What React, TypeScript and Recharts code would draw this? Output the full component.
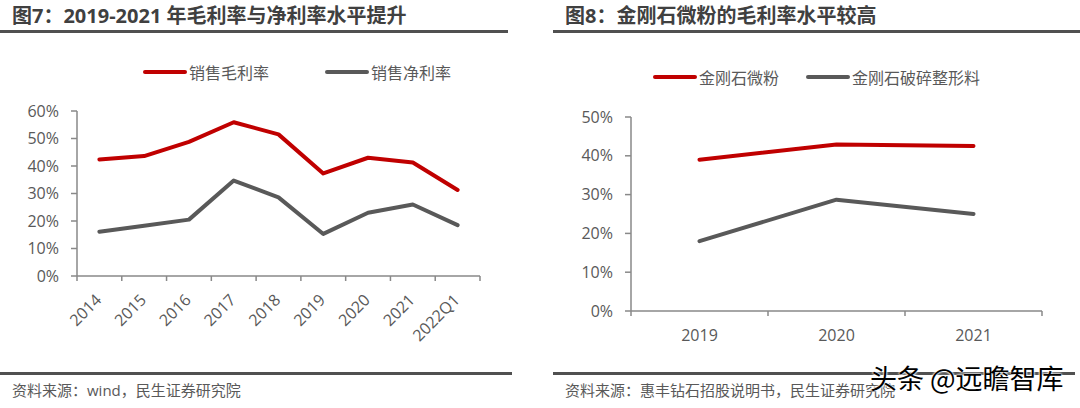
import React from 'react';
import { LineChart, Line, XAxis, YAxis, Legend } from 'recharts';

// 图7 data
const years = ['2014', '2015', '2016', '2017', '2018', '2019', '2020', '2021', '2022Q1'];
const grossMargin = [0.424, 0.436, 0.488, 0.559, 0.515, 0.373, 0.43, 0.413, 0.313];
const netMargin = [0.161, 0.183, 0.205, 0.347, 0.286, 0.153, 0.23, 0.26, 0.185];
const leftTicks = [0, 0.1, 0.2, 0.3, 0.4, 0.5, 0.6];

// 图8 data
const powderYears = ['2019', '2020', '2021'];
const powderMargin = [0.39, 0.429, 0.425];
const shapingMargin = [0.18, 0.287, 0.25];
const rightTicks = [0, 0.1, 0.2, 0.3, 0.4, 0.5];

const RED = '#c00000';
const GRAY = '#595959';
const AXIS = '#898989';
const TEXT = '#595959';
const FONT = '"Open Sans", "Noto Sans CJK SC", sans-serif';

const pct = (v: number) => `${Math.round(v * 100)}%`;

const leftData = years.map((y, i) => ({ year: y, gross: grossMargin[i], net: netMargin[i] }));
const rightData = powderYears.map((y, i) => ({ year: y, powder: powderMargin[i], shaping: shapingMargin[i] }));

// excel style category axis: tick marks between categories
const makeTick = (band: number, count: number, rotate: boolean) => (props: any) => {
  const { x, y, payload, index } = props;
  const lx = x - band / 2;
  return (
    <g>
      <line x1={lx} y1={y - 5} x2={lx} y2={y} stroke={AXIS} strokeWidth={1.5} />
      {index === count - 1 && (
        <line x1={x + band / 2} y1={y - 5} x2={x + band / 2} y2={y} stroke={AXIS} strokeWidth={1.5} />
      )}
      {rotate ? (
        <text
          x={x + 3}
          y={y + 20}
          transform={`rotate(-45 ${x + 3} ${y + 20})`}
          textAnchor="end"
          fill={TEXT}
          fontSize={16}
          fontFamily={FONT}
        >
          {payload.value}
        </text>
      ) : (
        <text x={x} y={y + 25} textAnchor="middle" fill={TEXT} fontSize={16} fontFamily={FONT}>
          {payload.value}
        </text>
      )}
    </g>
  );
};

// legend keeps series order (recharts sorts by name otherwise)
const makeLegend = (order: string[], offsets: number[], fontSize: number) => (props: any) => {
  const items = [...(props.payload || [])].sort(
    (a: any, b: any) => order.indexOf(a.dataKey) - order.indexOf(b.dataKey)
  );
  return (
    <div style={{ position: 'relative', height: 24, fontFamily: FONT }}>
      {items.map((p: any, i: number) => (
        <div
          key={i}
          style={{ position: 'absolute', left: offsets[i], top: 0, display: 'flex', alignItems: 'center', height: 24, whiteSpace: 'nowrap' }}
        >
          <svg width={44} height={8} style={{ marginRight: 2 }}>
            <line x1={2} y1={4} x2={42} y2={4} stroke={p.color} strokeWidth={4} strokeLinecap="round" />
          </svg>
          <span style={{ color: TEXT, fontSize }}>{p.value}</span>
        </div>
      ))}
    </div>
  );
};

const Title = ({ text, left, lineLeft, lineWidth }: any) => (
  <>
    <div style={{ position: 'absolute', left, top: 5, fontSize: 20, lineHeight: '22px', fontWeight: 'bold', color: '#404040', whiteSpace: 'nowrap' }}>
      {text}
    </div>
    <div style={{ position: 'absolute', left: lineLeft, top: 30, width: lineWidth, height: 2.5, background: '#505050' }} />
  </>
);

const Footer = ({ text, left, lineLeft, lineWidth }: any) => (
  <>
    <div style={{ position: 'absolute', left: lineLeft, top: 372, width: lineWidth, height: 2.5, background: '#505050' }} />
    <div style={{ position: 'absolute', left, top: 381, fontSize: 15, lineHeight: '18px', color: TEXT, whiteSpace: 'nowrap' }}>
      {text}
    </div>
  </>
);

const W = 508;
const H = 372;
const leftBand = (W - 77 - 28) / years.length;
const rightBand = (540 - 91 - 38) / powderYears.length;

export default function App() {
  return (
    <div style={{ position: 'absolute', left: 0, top: 0, width: 1080, height: 408, background: '#fff', fontFamily: FONT, overflow: 'hidden' }}>
      <Title text="图7：2019-2021 年毛利率与净利率水平提升" left={12} lineLeft={0} lineWidth={508} />
      <Title text="图8：金刚石微粉的毛利率水平较高" left={565} lineLeft={553} lineWidth={527} />

      <div style={{ position: 'absolute', left: 0, top: 0 }}>
        <LineChart width={W} height={H} data={leftData} margin={{ top: 111, right: 28, bottom: 36, left: 0 }}>
          <XAxis
            dataKey="year"
            scale="band"
            interval={0}
            height={60}
            tickLine={false}
            tickSize={5}
            tickMargin={0}
            axisLine={{ stroke: AXIS, strokeWidth: 1.5 }}
            tick={makeTick(leftBand, years.length, true)}
          />
          <YAxis
            width={77}
            domain={[0, 0.6]}
            ticks={leftTicks}
            interval={0}
            tickFormatter={pct}
            tickSize={6}
            tickMargin={12}
            axisLine={{ stroke: AXIS, strokeWidth: 1.5 }}
            tickLine={{ stroke: AXIS, strokeWidth: 1.5 }}
            tick={{ fill: TEXT, fontSize: 16, fontFamily: FONT }}
          />
          <Legend
            layout="vertical"
            align="center"
            verticalAlign="middle"
            wrapperStyle={{ left: 143, top: 60, width: 360 }}
            content={makeLegend(['gross', 'net'], [0, 182], 16)}
          />
          <Line dataKey="gross" name="销售毛利率" stroke={RED} strokeWidth={4} dot={false} activeDot={false} strokeLinecap="round" strokeLinejoin="round" isAnimationActive={false} />
          <Line dataKey="net" name="销售净利率" stroke={GRAY} strokeWidth={4} dot={false} activeDot={false} strokeLinecap="round" strokeLinejoin="round" isAnimationActive={false} />
        </LineChart>
      </div>

      <div style={{ position: 'absolute', left: 540, top: 0 }}>
        <LineChart width={540} height={H} data={rightData} margin={{ top: 117, right: 38, bottom: 21, left: 0 }}>
          <XAxis
            dataKey="year"
            scale="band"
            interval={0}
            height={40}
            tickLine={false}
            tickSize={5}
            tickMargin={0}
            axisLine={{ stroke: AXIS, strokeWidth: 1.5 }}
            tick={makeTick(rightBand, powderYears.length, false)}
          />
          <YAxis
            width={91}
            domain={[0, 0.5]}
            ticks={rightTicks}
            interval={0}
            tickFormatter={pct}
            tickSize={6}
            tickMargin={12}
            axisLine={{ stroke: AXIS, strokeWidth: 1.5 }}
            tickLine={{ stroke: AXIS, strokeWidth: 1.5 }}
            tick={{ fill: TEXT, fontSize: 16, fontFamily: FONT }}
          />
          <Legend
            layout="vertical"
            align="center"
            verticalAlign="middle"
            wrapperStyle={{ left: 113, top: 65, width: 400 }}
            content={makeLegend(['powder', 'shaping'], [0, 153], 16)}
          />
          <Line dataKey="powder" name="金刚石微粉" stroke={RED} strokeWidth={4} dot={false} activeDot={false} strokeLinecap="round" strokeLinejoin="round" isAnimationActive={false} />
          <Line dataKey="shaping" name="金刚石破碎整形料" stroke={GRAY} strokeWidth={4} dot={false} activeDot={false} strokeLinecap="round" strokeLinejoin="round" isAnimationActive={false} />
        </LineChart>
      </div>

      <Footer text="资料来源：wind，民生证券研究院" left={12} lineLeft={0} lineWidth={512} />
      <Footer text="资料来源：惠丰钻石招股说明书，民生证券研究院" left={565} lineLeft={553} lineWidth={522} />

      <div
        style={{
          position: 'absolute',
          left: 870,
          top: 362,
          fontSize: 27,
          lineHeight: '32px',
          color: '#000',
          fontFamily: '"Noto Sans CJK SC", sans-serif',
          whiteSpace: 'nowrap',
          textShadow: '0 0 2px #fff, 0 0 2px #fff, 0 0 3px #fff',
        }}
      >
        头条 @远瞻智库
      </div>
    </div>
  );
}
